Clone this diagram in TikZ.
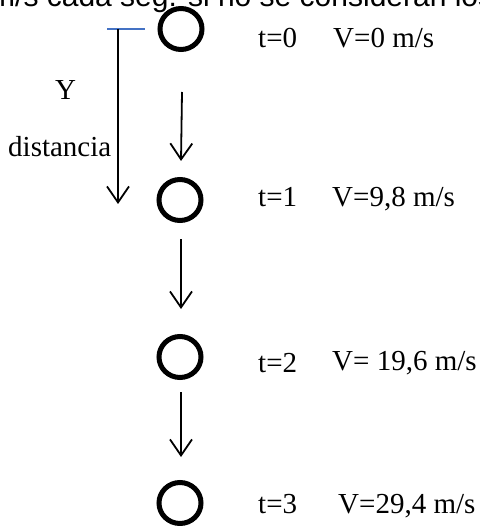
\documentclass[tikz,border=0pt]{standalone}
\usepackage{fontspec}
\setmainfont{Liberation Serif}
\newfontfamily\cutfont{Liberation Sans}
\definecolor{refblue}{RGB}{68,114,196}
\usetikzlibrary{arrows.meta,positioning,shapes.geometric}

\begin{document}
\begin{tikzpicture}[x=1pt,y=-1pt,
  ball/.style={draw,ellipse,line width=5pt,minimum width=42pt,minimum height=41pt,inner sep=0pt},
  lbl/.style={anchor=base west,inner sep=0pt,font=\fontsize{29}{34}\selectfont},
  arr/.style={line width=1.8pt,-{Straight Barb[length=16pt,width=22pt,line width=1.8pt]}}]
  % text cut off above the picture
  \begin{scope}
    \clip (0,0) rectangle (479,526);
    \node[anchor=base west,inner sep=0pt,font=\cutfont\fontsize{30}{36}\selectfont] (cut) at (-10,7) {m/s cada seg. si no se consideran los};
  \end{scope}
  % the ball at each second
  \node[ball] (b0) at (181,29) {};
  \node[ball] (b1) at (180,200) {};
  \node[ball] (b2) at (180,357) {};
  \node[ball] (b3) at (180,503) {};
  \draw[arr] ([xshift=1pt,yshift=-40pt]b0.south) -- ([xshift=1pt,yshift=16pt]b1.north);
  \draw[arr] ([xshift=1pt,yshift=-16pt]b1.south) -- ([xshift=1pt,yshift=25pt]b2.north);
  \draw[arr] ([xshift=1pt,yshift=-12pt]b2.south) -- ([xshift=1pt,yshift=23pt]b3.north);
  % distance fallen
  \coordinate (ref0) at (107,29);
  \coordinate (ref1) at (145,29);
  \coordinate (ytop) at (118,29);
  \coordinate (ybot) at (118,204);
  \draw[refblue,line width=1.5pt] (ref0) -- (ref1);
  \draw[arr] (ytop) -- (ybot);
  \node[lbl] (ylbl) at (55,100) {Y};
  \node[lbl] (dist) at (8,157) {distancia};
  % time and speed
  \node[lbl] (t0) at (258,48) {t=0};
  \node[lbl] (v0) at (333,48) {V=0 m/s};
  \node[lbl] (t1) at (258,207) {t=1};
  \node[lbl] (v1) at (332,207) {V=9,8 m/s};
  \node[lbl] (t2) at (258,372) {t=2};
  \node[lbl] (v2) at (332,370) {V= 19,6 m/s};
  \node[lbl] (t3) at (258,513) {t=3};
  \node[lbl] (v3) at (338,513) {V=29,4 m/s};
  \pgfresetboundingbox
  \useasboundingbox (0,0) rectangle (479,526);
\end{tikzpicture}
\end{document}
